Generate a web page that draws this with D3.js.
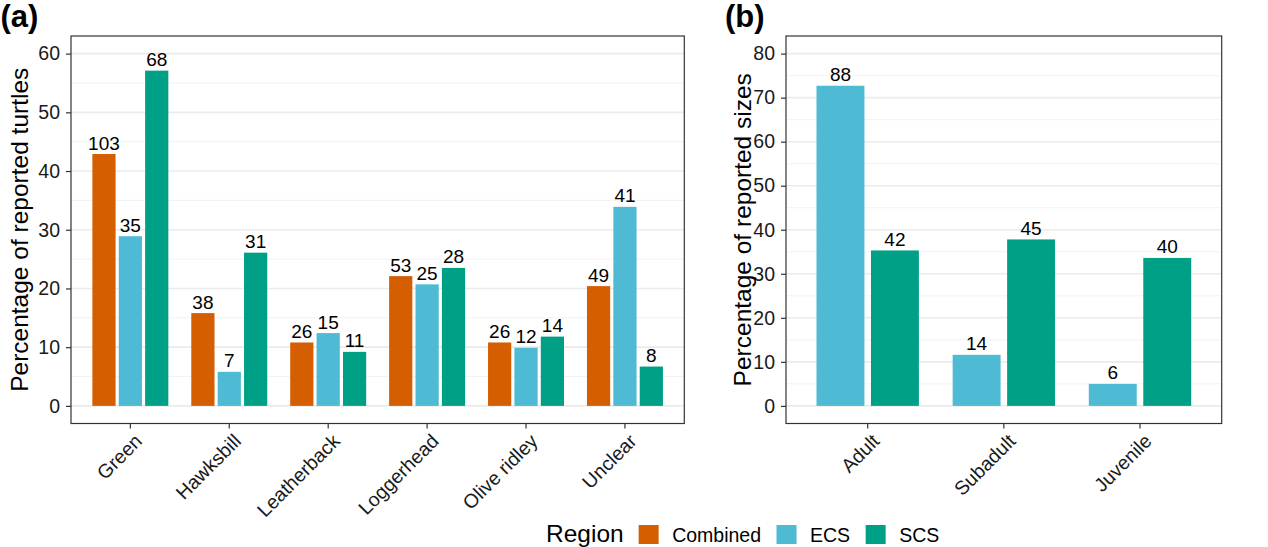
<!DOCTYPE html>
<html>
<head>
<meta charset="utf-8">
<script src="https://cdn.jsdelivr.net/npm/d3@7"></script>
<style>
  html, body { margin: 0; padding: 0; background: #fff; }
  svg { display: block; font-family: "Liberation Sans", Arial, Helvetica, sans-serif; }
</style>
</head>
<body>
<svg id="chart" width="1268" height="547"></svg>
<script>
// ---------- data ----------
const species = ["Green", "Hawksbill", "Leatherback", "Loggerhead", "Olive ridley", "Unclear"];
const regions = ["Combined", "ECS", "SCS"];
const combinedPct = [42.9, 15.8, 10.8, 22.1, 10.8, 20.4];
const combinedN   = [103, 38, 26, 53, 26, 49];
const ecsPct      = [28.9, 5.8, 12.4, 20.7, 9.9, 33.9];
const ecsN        = [35, 7, 15, 25, 12, 41];
const scsPct      = [57.1, 26.1, 9.2, 23.5, 11.8, 6.7];
const scsN        = [68, 31, 11, 28, 14, 8];

const sizeClasses = ["Adult", "Subadult", "Juvenile"];
const sizeRegions = ["ECS", "SCS"];
const sizeEcsPct  = [72.7, 11.6, 5.0];
const sizeEcsN    = [88, 14, 6];
const sizeScsPct  = [35.3, 37.8, 33.6];
const sizeScsN    = [42, 45, 40];

const ticksA = [0, 10, 20, 30, 40, 50, 60];
const ticksB = [0, 10, 20, 30, 40, 50, 60, 70, 80];
const colors = { Combined: "#D55E00", ECS: "#4EBAD4", SCS: "#00A087" };

// ---------- build rows ----------
const rowsA = [];
species.forEach((s, i) => {
  rowsA.push({ cat: s, region: "Combined", pct: combinedPct[i], n: combinedN[i] });
  rowsA.push({ cat: s, region: "ECS", pct: ecsPct[i], n: ecsN[i] });
  rowsA.push({ cat: s, region: "SCS", pct: scsPct[i], n: scsN[i] });
});
const rowsB = [];
sizeClasses.forEach((s, i) => {
  rowsB.push({ cat: s, region: "ECS", pct: sizeEcsPct[i], n: sizeEcsN[i] });
  rowsB.push({ cat: s, region: "SCS", pct: sizeScsPct[i], n: sizeScsN[i] });
});

const svg = d3.select("#chart");
const TEXT = "#1a1a1a";

function panel(opts) {
  const { left, right, top, bottom, cats, regs, rows, domain, ticks, title, tag, tagX, titleX } = opts;
  const g = svg.append("g");
  const x = d3.scaleBand().domain(cats).range([left, right]).paddingInner(0).paddingOuter(0.1);
  const y = d3.scaleLinear().domain(domain).range([bottom, top]);
  const step = x.step();
  const x1 = d3.scaleBand().domain(regs).range([-0.4 * step, 0.4 * step]);
  const bw = x1.bandwidth() * 0.88;

  // grid: minor
  const minor = [];
  for (let v = 5; v < domain[1]; v += 10) minor.push(v);
  g.append("g").selectAll("line").data(minor).join("line")
    .attr("x1", left).attr("x2", right)
    .attr("y1", d => y(d)).attr("y2", d => y(d))
    .attr("stroke", "#EFEFEF").attr("stroke-width", 0.8);
  g.append("g").selectAll("line").data(ticks).join("line")
    .attr("x1", left).attr("x2", right)
    .attr("y1", d => y(d)).attr("y2", d => y(d))
    .attr("stroke", "#EBEBEB").attr("stroke-width", 1.6);

  // bars
  g.append("g").selectAll("rect").data(rows).join("rect")
    .attr("x", d => x(d.cat) + step / 2 + x1(d.region) + (x1.bandwidth() - bw) / 2)
    .attr("width", bw)
    .attr("y", d => y(d.pct))
    .attr("height", d => y(0) - y(d.pct))
    .attr("fill", d => colors[d.region]);

  // bar labels
  g.append("g").selectAll("text").data(rows).join("text")
    .attr("x", d => x(d.cat) + step / 2 + x1(d.region) + x1.bandwidth() / 2)
    .attr("y", d => y(d.pct) - 4.5)
    .attr("text-anchor", "middle")
    .attr("font-size", 19)
    .attr("fill", "#000")
    .text(d => d.n);

  // border
  g.append("rect").attr("x", left).attr("y", top).attr("width", right - left).attr("height", bottom - top)
    .attr("fill", "none").attr("stroke", "#333").attr("stroke-width", 1.2);

  // y axis
  const ya = g.append("g").attr("transform", `translate(${left},0)`)
    .call(d3.axisLeft(y).tickValues(ticks).tickSize(5).tickPadding(6));
  ya.select(".domain").remove();
  ya.selectAll(".tick line").attr("stroke", "#333").attr("stroke-width", 1.2);
  ya.selectAll(".tick text").attr("font-size", 19.5).attr("fill", TEXT)
    .attr("font-family", "Liberation Sans, Arial, sans-serif");

  // x axis
  const xa = g.append("g").attr("transform", `translate(0,${bottom})`)
    .call(d3.axisBottom(x).tickSize(5).tickPadding(4));
  xa.select(".domain").remove();
  xa.selectAll(".tick line").attr("stroke", "#333").attr("stroke-width", 1.2);
  xa.selectAll(".tick text")
    .attr("font-size", 19.5).attr("fill", TEXT)
    .attr("font-family", "Liberation Sans, Arial, sans-serif")
    .attr("text-anchor", "end")
    .attr("x", 0).attr("y", 0).attr("dy", "0.72em")
    .attr("transform", "translate(3,9) rotate(-45)");

  // y title
  g.append("text")
    .attr("transform", `translate(${titleX},${(top + bottom) / 2}) rotate(-90)`)
    .attr("text-anchor", "middle")
    .attr("font-size", 24.5).attr("fill", "#000")
    .text(title);

  // tag
  g.append("text").attr("x", tagX).attr("y", 27)
    .attr("font-size", 31).attr("font-weight", "bold").attr("fill", "#000")
    .text(tag);
}

panel({ left: 71, right: 684.3, top: 36, bottom: 423.5, cats: species, regs: regions, rows: rowsA,
        domain: [-3, 63], ticks: ticksA, title: "Percentage of reported turtles", tag: "(a)", tagX: 0.5, titleX: 27.5 });
panel({ left: 786, right: 1221.7, top: 36, bottom: 423.5, cats: sizeClasses, regs: sizeRegions, rows: rowsB,
        domain: [-4, 84], ticks: ticksB, title: "Percentage of reported sizes", tag: "(b)", tagX: 725, titleX: 751 });

// ---------- legend ----------
const lg = svg.append("g");
let lx = 546;
const ly = 542;
const lt = lg.append("text").attr("x", lx).attr("y", ly).attr("font-size", 24.5).attr("fill", "#000").text("Region");
lx += lt.node().getComputedTextLength() + 15;
regions.forEach(r => {
  lg.append("rect").attr("x", lx).attr("y", 525).attr("width", 20).attr("height", 19).attr("fill", colors[r]);
  lx += 20 + 13.5;
  const t = lg.append("text").attr("x", lx).attr("y", ly).attr("font-size", 19.5).attr("fill", "#000").text(r);
  lx += t.node().getComputedTextLength() + 15.5;
});
</script>
</body>
</html>
